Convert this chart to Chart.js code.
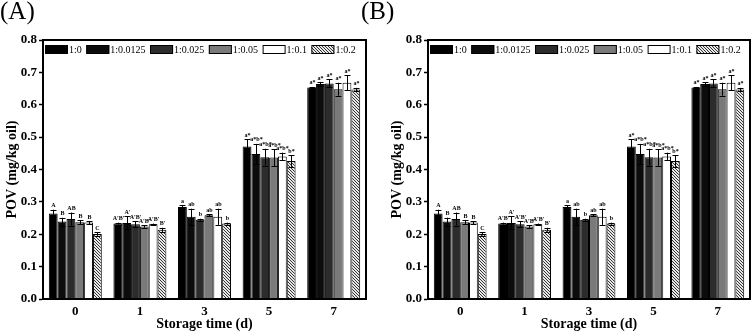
<!DOCTYPE html>
<html>
<head>
<meta charset="utf-8">
<script src="https://cdn.jsdelivr.net/npm/chart.js@4.4.0/dist/chart.umd.min.js"></script>
<style>
  html, body { margin: 0; padding: 0; background: #fff; }
  #wrap { position: relative; width: 756px; height: 335px; overflow: hidden; }
  .pane { position: absolute; top: 0; width: 378px; height: 335px; }
  .tag { position: absolute; top: -3px; font: 25px "Liberation Serif", "Times New Roman", serif; color: #000; }
</style>
</head>
<body>
<div id="wrap">
  <div class="pane" style="left:0"><canvas id="povA" width="378" height="335"></canvas></div>
  <div class="pane" style="left:378px"><canvas id="povB" width="378" height="335"></canvas></div>
  <div class="tag" style="left:0">(A)</div>
  <div class="tag" style="left:361px">(B)</div>
</div>
<script>
// storage days (x categories)
const days = ['0', '1', '3', '5', '7'];
// oil : additive ratios
const ratios = ['1:0', '1:0.0125', '1:0.025', '1:0.05', '1:0.1', '1:0.2'];

// POV means (mg/kg oil), one array per ratio
const pov_1_0      = [0.264, 0.233, 0.284, 0.471, 0.653];
const pov_1_00125  = [0.239, 0.235, 0.254, 0.448, 0.664];
const pov_1_0025   = [0.247, 0.231, 0.245, 0.438, 0.666];
const pov_1_005    = [0.237, 0.224, 0.259, 0.437, 0.648];
const pov_1_01     = [0.236, 0.231, 0.254, 0.440, 0.668];
const pov_1_02     = [0.201, 0.214, 0.233, 0.426, 0.647];

// standard deviations
const sd_1_0      = [0.012, 0.003, 0.005, 0.023, 0.002];
const sd_1_00125  = [0.012, 0.020, 0.025, 0.031, 0.006];
const sd_1_0025   = [0.020, 0.010, 0.003, 0.026, 0.012];
const sd_1_005    = [0.006, 0.004, 0.003, 0.026, 0.020];
const sd_1_01     = [0.005, 0.002, 0.025, 0.012, 0.023];
const sd_1_02     = [0.005, 0.006, 0.003, 0.018, 0.005];

// significance letters
const sig_1_0      = ['A', "A'B'", 'a', 'a*', 'a*'];
const sig_1_00125  = ['B', "A'", 'ab', 'a*b*', 'a*'];
const sig_1_0025   = ['AB', "A'B'", 'b', 'a*b*', 'a*'];
const sig_1_005    = ['B', "A'B'", 'ab', 'a*b*', 'a*'];
const sig_1_01     = ['B', "A'B'", 'ab', 'a*b*', 'a*'];
const sig_1_02     = ['C', "B'", 'b', 'b*', 'a*'];

const yTicks = [0, 0.1, 0.2, 0.3, 0.4, 0.5, 0.6, 0.7, 0.8];

const means = [pov_1_0, pov_1_00125, pov_1_0025, pov_1_005, pov_1_01, pov_1_02];
const sds = [sd_1_0, sd_1_00125, sd_1_0025, sd_1_005, sd_1_01, sd_1_02];
const sigs = [sig_1_0, sig_1_00125, sig_1_0025, sig_1_005, sig_1_01, sig_1_02];

function hatch() {
  const c = document.createElement('canvas');
  c.width = 3; c.height = 3;
  const g = c.getContext('2d');
  g.fillStyle = '#e8e8e8';
  g.fillRect(0, 0, 3, 3);
  g.strokeStyle = '#333';
  g.lineWidth = 1;
  g.beginPath();
  g.moveTo(-1, -1); g.lineTo(4, 4);
  g.moveTo(-1, 2); g.lineTo(1, 4);
  g.moveTo(2, -1); g.lineTo(4, 1);
  g.stroke();
  return g.createPattern(c, 'repeat');
}

const SERIF = '"Liberation Serif", "Times New Roman", serif';

// frame, error bars, letters, legend
const povDecor = {
  id: 'povDecor',
  afterDatasetsDraw(chart) {
    const ctx = chart.ctx, y = chart.scales.y, a = chart.chartArea;
    ctx.save();
    ctx.strokeStyle = '#000';
    ctx.fillStyle = '#000';
    ctx.lineWidth = 1;
    chart.data.datasets.forEach((ds, i) => {
      chart.getDatasetMeta(i).data.forEach((bar, j) => {
        const x = Math.round(bar.x) + 0.5;
        const hi = y.getPixelForValue(ds.data[j] + ds.sd[j]);
        const lo = y.getPixelForValue(ds.data[j] - ds.sd[j]);
        ctx.beginPath();
        ctx.moveTo(x, lo); ctx.lineTo(x, hi);
        ctx.moveTo(x - 3, Math.round(hi) + 0.5); ctx.lineTo(x + 3, Math.round(hi) + 0.5);
        ctx.moveTo(x - 3, Math.round(lo) + 0.5); ctx.lineTo(x + 3, Math.round(lo) + 0.5);
        ctx.stroke();
        ctx.font = 'bold 6px ' + SERIF;
        ctx.textAlign = 'center';
        ctx.textBaseline = 'bottom';
        ctx.fillText(ds.sig[j], x, hi - 1);
      });
    });
    // legend inside the top of the frame
    ctx.font = '10px ' + SERIF;
    ctx.textAlign = 'left';
    ctx.textBaseline = 'middle';
    let lx = a.left + 2;
    const ly = a.top + 5;
    chart.data.datasets.forEach(ds => {
      ctx.fillStyle = ds.backgroundColor;
      ctx.fillRect(lx, ly, 23, 9);
      ctx.strokeStyle = '#000';
      ctx.strokeRect(lx + 0.5, ly + 0.5, 22, 8);
      ctx.fillStyle = '#000';
      ctx.fillText(ds.label, lx + 24, ly + 5);
      lx += 24 + ctx.measureText(ds.label).width + 4.5;
    });
    ctx.lineWidth = 2;
    ctx.strokeRect(a.left, a.top, a.right - a.left, a.bottom - a.top);
    ctx.restore();
  }
};

function makeChart(id, padLeft, padRight) {
  const fills = ['#000000', '#0c0c0c', '#2c2c2c', '#7a7a7a', '#ffffff', hatch()];
  return new Chart(document.getElementById(id), {
    type: 'bar',
    data: {
      labels: days,
      datasets: ratios.map((r, i) => ({
        label: r,
        data: means[i],
        sd: sds[i],
        sig: sigs[i],
        backgroundColor: fills[i],
        borderColor: '#000',
        borderWidth: 1,
        borderSkipped: 'bottom',
        barPercentage: 1,
        categoryPercentage: 0.82
      }))
    },
    options: {
      responsive: false,
      animation: false,
      layout: { padding: { left: padLeft, right: padRight, top: 40, bottom: 0 } },
      plugins: { legend: { display: false }, tooltip: { enabled: false } },
      scales: {
        x: {
          afterFit: s => { s.height = 36; },
          grid: { display: false, drawTicks: true, tickLength: 3, color: '#000' },
          border: { display: true, color: '#000', width: 2 },
          ticks: { color: '#000', padding: 2, font: { family: SERIF, size: 13, weight: 'bold' } },
          title: {
            display: true, text: 'Storage time (d)', color: '#000',
            padding: { top: 0, bottom: 2 },
            font: { family: SERIF, size: 14, weight: 'bold' }
          }
        },
        y: {
          min: 0, max: 0.8,
          afterFit: s => { s.width = 43; },
          afterBuildTicks: s => {
            const t = [];
            yTicks.forEach((v, k) => {
              t.push({ value: v });
              if (k < yTicks.length - 1) t.push({ value: (v + yTicks[k + 1]) / 2, minor: true });
            });
            s.ticks = t;
          },
          grid: {
            drawOnChartArea: false, drawTicks: true, tickLength: 4, color: '#000',
            tickWidth: c => (c.tick && c.tick.minor ? 1 : 1.5)
          },
          border: { display: true, color: '#000', width: 2 },
          ticks: {
            color: '#000', padding: 2,
            font: { family: SERIF, size: 13, weight: 'bold' },
            callback: function (v, k, t) { return t[k].minor ? '' : v.toFixed(1); }
          },
          title: {
            display: true, text: 'POV (mg/kg oil)', color: '#000',
            padding: { top: 4, bottom: 0 },
            font: { family: SERIF, size: 14, weight: 'bold' }
          }
        }
      }
    },
    plugins: [povDecor]
  });
}

makeChart('povA', 0, 12);
makeChart('povB', 7, 6);
</script>
</body>
</html>
